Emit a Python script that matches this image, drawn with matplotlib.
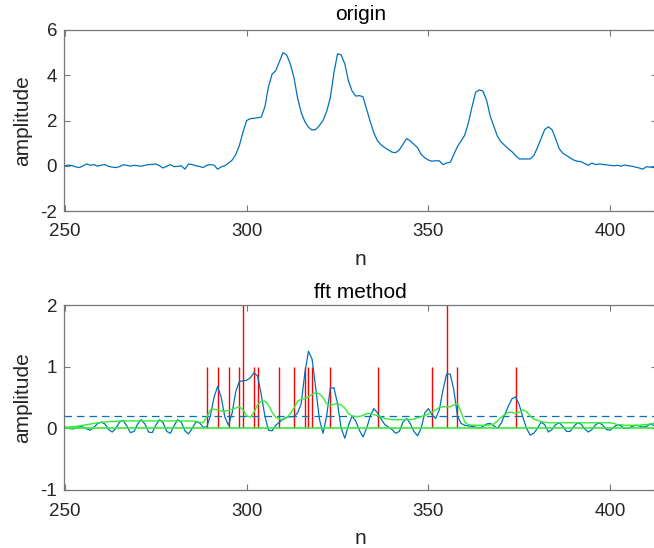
import numpy as np
import matplotlib
matplotlib.use("Agg")
import matplotlib.pyplot as plt

plt.rcParams["font.family"] = ["Liberation Sans", "DejaVu Sans"]
plt.rcParams["axes.unicode_minus"] = False

# sample index
n = np.arange(250, 413)

# raw signal
origin = [
    0.00, 0.03, 0.00, -0.05, -0.08, 0.00, 0.08, 0.02, 0.05, -0.02,
    0.03, 0.05, -0.03, -0.06, -0.08, -0.04, 0.04, 0.02, -0.02, 0.02,
    0.00, -0.02, 0.02, 0.05, 0.06, 0.08, 0.00, -0.10, -0.02, 0.05,
    -0.04, -0.03, 0.00, -0.15, 0.08, 0.05, 0.00, -0.03, -0.08, 0.02,
    0.05, 0.03, -0.15, -0.05, 0.00, 0.12, 0.25, 0.50, 0.90, 1.50,
    2.00, 2.08, 2.10, 2.12, 2.15, 2.60, 3.50, 4.05, 4.20, 4.60,
    5.00, 4.90, 4.50, 3.90, 3.00, 2.35, 1.95, 1.70, 1.58, 1.60,
    1.78, 2.00, 2.40, 3.00, 4.10, 4.95, 4.90, 4.50, 3.75, 3.30,
    3.08, 3.10, 3.05, 2.50, 1.95, 1.45, 1.10, 0.92, 0.80, 0.70,
    0.60, 0.58, 0.70, 0.95, 1.20, 1.10, 0.95, 0.80, 0.50, 0.35,
    0.25, 0.20, 0.22, 0.22, 0.05, 0.12, 0.15, 0.50, 0.85, 1.10,
    1.35, 1.90, 2.60, 3.25, 3.35, 3.30, 2.90, 2.20, 1.75, 1.30,
    1.05, 0.90, 0.75, 0.62, 0.45, 0.30, 0.30, 0.30, 0.30, 0.45,
    0.80, 1.20, 1.60, 1.72, 1.60, 1.20, 0.75, 0.55, 0.45, 0.35,
    0.25, 0.20, 0.18, 0.10, 0.02, 0.12, 0.05, 0.08, 0.06, 0.04,
    0.02, 0.00, 0.02, -0.02, 0.03, 0.00, -0.02, -0.06, -0.10, -0.15,
    -0.04, -0.06, -0.08,
]

# filtered signal from fft
filtered = [
    0.02, 0.00, -0.01, 0.00, 0.03, 0.02, -0.01, -0.03, 0.02, 0.08,
    0.10, 0.07, -0.02, -0.06, 0.00, 0.10, 0.13, 0.04, -0.07, -0.05,
    0.07, 0.14, 0.07, -0.06, -0.07, 0.05, 0.14, 0.09, -0.05, -0.08,
    0.04, 0.14, 0.10, -0.04, -0.09, 0.00, 0.10, 0.09, 0.02, 0.02,
    0.20, 0.50, 0.68, 0.50, 0.18, 0.05, 0.25, 0.60, 0.76, 0.77,
    0.78, 0.82, 0.90, 0.85, 0.55, 0.20, -0.03, -0.04, 0.05, 0.10,
    0.15, 0.18, 0.19, 0.19, 0.25, 0.40, 0.90, 1.25, 1.12, 0.65,
    0.15, -0.08, 0.20, 0.65, 0.66, 0.40, 0.00, -0.16, 0.05, 0.20,
    0.12, -0.03, -0.14, 0.00, 0.20, 0.32, 0.25, 0.15, 0.06, 0.02,
    -0.02, -0.08, -0.05, 0.10, 0.16, 0.08, -0.05, -0.12, 0.00, 0.25,
    0.32, 0.22, 0.16, 0.30, 0.62, 0.88, 0.88, 0.62, 0.20, 0.08,
    0.05, 0.04, 0.03, 0.02, 0.00, 0.03, 0.07, 0.08, 0.04, 0.00,
    0.08, 0.22, 0.36, 0.48, 0.51, 0.38, 0.18, 0.00, -0.11, -0.08,
    0.00, 0.10, 0.06, -0.06, -0.02, 0.06, 0.09, 0.03, -0.05, -0.05,
    0.03, 0.09, 0.07, -0.01, -0.06, -0.02, 0.06, 0.09, 0.05, -0.02,
    -0.03, 0.02, 0.06, 0.04, 0.00, 0.00, 0.03, 0.05, 0.04, 0.02,
    0.03, 0.07, 0.05,
]

# smoothed envelope
envelope = [
    0.02, 0.02, 0.03, 0.03, 0.04, 0.05, 0.06, 0.07, 0.08, 0.09,
    0.10, 0.10, 0.11, 0.11, 0.11, 0.12, 0.12, 0.12, 0.12, 0.12,
    0.12, 0.12, 0.12, 0.12, 0.12, 0.12, 0.12, 0.12, 0.12, 0.12,
    0.12, 0.12, 0.12, 0.12, 0.12, 0.12, 0.11, 0.10, 0.09, 0.18,
    0.30, 0.31, 0.30, 0.28, 0.28, 0.29, 0.31, 0.33, 0.35, 0.30,
    0.20, 0.18, 0.26, 0.38, 0.44, 0.44, 0.38, 0.26, 0.18, 0.15,
    0.14, 0.17, 0.24, 0.33, 0.44, 0.47, 0.48, 0.51, 0.55, 0.58,
    0.56, 0.50, 0.40, 0.37, 0.39, 0.40, 0.38, 0.33, 0.24, 0.20,
    0.19, 0.19, 0.21, 0.24, 0.24, 0.22, 0.21, 0.18, 0.16, 0.15,
    0.14, 0.14, 0.14, 0.14, 0.14, 0.14, 0.15, 0.17, 0.19, 0.21,
    0.23, 0.26, 0.30, 0.34, 0.35, 0.35, 0.35, 0.38, 0.40, 0.26,
    0.10, 0.06, 0.05, 0.05, 0.05, 0.05, 0.05, 0.06, 0.07, 0.12,
    0.18, 0.22, 0.26, 0.26, 0.24, 0.26, 0.30, 0.27, 0.20, 0.15,
    0.13, 0.11, 0.10, 0.09, 0.09, 0.09, 0.09, 0.09, 0.09, 0.09,
    0.09, 0.09, 0.09, 0.09, 0.09, 0.09, 0.09, 0.09, 0.09, 0.09,
    0.09, 0.08, 0.06, 0.06, 0.05, 0.05, 0.05, 0.05, 0.05, 0.06,
    0.06, 0.07, 0.08,
]

# detected peak positions and their marker heights
peak_n = [289, 292, 295, 298, 299, 302, 303, 309, 313, 316, 317, 318,
          323, 336, 351, 355, 358, 374]
peak_h = [1, 1, 1, 1, 2, 1, 1, 1, 1, 1, 1, 1, 1, 1, 1, 2, 1, 1]
threshold = 0.2

BLUE = "#0072BD"
GREEN = "#33ee33"
AX_COLOR = "#777777"
TXT = "#262626"

fig = plt.figure(figsize=(6.54, 5.48), dpi=100)
W, H = 654, 548


def make_axes(top_px, bottom_px):
    ax = fig.add_axes([64 / W, 1 - bottom_px / H, (657 - 64) / W, (bottom_px - top_px) / H])
    for s in ax.spines.values():
        s.set_color(AX_COLOR)
        s.set_linewidth(0.9)
    ax.tick_params(direction="in", top=True, right=True, length=4,
                   color=AX_COLOR, labelcolor=TXT, labelsize=13.5)
    ax.tick_params(axis="x", pad=9)
    ax.tick_params(axis="y", pad=5)
    ax.set_xlim(249.73, 412.9)
    ax.set_xticks([250, 300, 350, 400])
    ax.set_xlabel("n", fontsize=15, color=TXT, labelpad=7)
    ax.set_ylabel("amplitude", fontsize=15, color=TXT, labelpad=6)
    return ax


ax1 = make_axes(30, 211)
ax1.plot(n, origin, color=BLUE, lw=0.9)
ax1.set_ylim(-2, 6)
ax1.set_yticks([-2, 0, 2, 4, 6])
ax1.set_title("origin", fontsize=15, color="black", pad=7)

ax2 = make_axes(305, 490)
ax2.vlines(peak_n, 0, peak_h, colors="red", lw=1.0)
ax2.plot(n, filtered, color=BLUE, lw=0.9)
ax2.axhline(threshold, color=BLUE, lw=0.9, ls=(0, (6, 4)))
ax2.axhline(0, color=GREEN, lw=1.2)
ax2.plot(n, envelope, color=GREEN, lw=1.0)
ax2.set_ylim(-1, 2)
ax2.set_yticks([-1, 0, 1, 2])
ax2.set_title("fft method", fontsize=15, color="black", pad=5)

fig.savefig("out.png", dpi=100)
